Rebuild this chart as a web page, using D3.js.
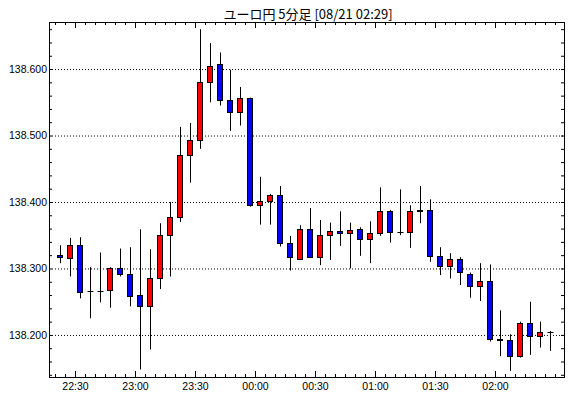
<!DOCTYPE html>
<html>
<head>
<meta charset="utf-8">
<script src="https://cdn.jsdelivr.net/npm/d3@7"></script>
<style>
body { margin: 0; background: #fff; }
svg { display: block; }
</style>
</head>
<body>
<script>
// 5 minute candles, EUR/JPY
let times = ['22:20','22:25','22:30','22:35','22:40','22:45','22:50','22:55',
    '23:00','23:05','23:10','23:15','23:20','23:25','23:30','23:35','23:40','23:45','23:50','23:55',
    '00:00','00:05','00:10','00:15','00:20','00:25','00:30','00:35','00:40','00:45','00:50','00:55',
    '01:00','01:05','01:10','01:15','01:20','01:25','01:30','01:35','01:40','01:45','01:50','01:55',
    '02:00','02:05','02:10','02:15','02:20','02:25'];
let open = [138.320,138.316,138.335,138.266,138.266,138.267,138.300,138.291,
    138.260,138.243,138.285,138.350,138.377,138.470,138.494,138.581,138.608,138.554,138.536,138.557,
    138.395,138.401,138.410,138.339,138.314,138.360,138.317,138.350,138.356,138.353,138.359,138.345,
    138.353,138.386,138.355,138.355,138.388,138.388,138.319,138.303,138.314,138.291,138.273,138.281,
    138.194,138.192,138.169,138.218,138.199,138.204];
let high = [138.335,138.346,138.347,138.302,138.324,138.302,138.330,138.332,
    138.359,138.329,138.368,138.400,138.513,138.519,138.660,138.639,138.625,138.599,138.573,138.557,
    138.438,138.412,138.424,138.349,138.365,138.391,138.373,138.369,138.386,138.369,138.362,138.371,
    138.422,138.388,138.419,138.395,138.424,138.404,138.332,138.323,138.317,138.294,138.308,138.306,
    138.237,138.201,138.220,138.250,138.220,138.206];
let low = [138.308,138.288,138.255,138.225,138.249,138.241,138.288,138.243,
    138.148,138.178,138.269,138.288,138.370,138.429,138.480,138.550,138.545,138.507,138.515,138.393,
    138.366,138.366,138.333,138.297,138.313,138.317,138.305,138.313,138.334,138.300,138.319,138.308,
    138.349,138.339,138.350,138.331,138.368,138.310,138.290,138.285,138.275,138.256,138.251,138.190,
    138.168,138.146,138.166,138.170,138.181,138.176];
let close = [138.317,138.335,138.265,138.266,138.266,138.300,138.291,138.259,
    138.243,138.285,138.350,138.377,138.470,138.493,138.581,138.604,138.554,138.536,138.557,138.395,
    138.401,138.410,138.339,138.317,138.360,138.317,138.350,138.356,138.353,138.358,138.345,138.353,
    138.386,138.355,138.355,138.386,138.386,138.319,138.303,138.314,138.295,138.273,138.281,138.194,
    138.192,138.169,138.218,138.199,138.204,138.204];
let yTicks = [138.200, 138.300, 138.400, 138.500, 138.600];
let xTickLabels = ['22:30','23:00','23:30','00:00','00:30','01:00','01:30','02:00'];
let title = 'ユーロ円 5分足 [08/21 02:29]';

let W = 570, H = 398;
let L = 49, R = 564, T = 22, B = 377;

// times after midnight belong to the next day
function toDate(s) {
    let hh = +s.slice(0,2), mm = +s.slice(3,5);
    return new Date(2023, 7, hh >= 12 ? 20 : 21, hh, mm);
}

let svg = d3.select('body').append('svg')
    .attr('width', W)
    .attr('height', H);

let x = d3.scaleTime()
    .domain([new Date(2023,7,20,22,17,0), new Date(2023,7,21,2,34,30)])
    .range([L, R]);
let y = d3.scaleLinear()
    .domain([138.1367, 138.6708])
    .range([B, T]);

let FONT = '"Liberation Sans", Arial, sans-serif';

// title
svg.append('text')
    .attr('x', 308)
    .attr('y', 19)
    .attr('text-anchor', 'middle')
    .attr('font-family', '"Noto Sans CJK JP", sans-serif')
    .attr('font-size', 13)
    .attr('fill', '#000')
    .text(title);

// horizontal dotted grid
let grid = svg.append('g')
    .attr('transform', 'translate(' + L + ',0)')
    .call(d3.axisLeft(y).tickValues(yTicks).tickSize(-(R - L)).tickFormat(''));
grid.select('.domain').remove();
grid.selectAll('line').attr('stroke', '#000').attr('stroke-dasharray', '1,2');

// minor tick values
let yMinor = d3.range(138.14, 138.67, 0.02).map(v => +v.toFixed(2));
let xMinor = d3.timeMinute.every(5).range(x.domain()[0], x.domain()[1]);
let xMajor = xTickLabels.map(toDate);

function styleAxis(g) {
    g.select('.domain').remove();
    g.selectAll('line').attr('stroke', '#000');
    g.selectAll('text').attr('fill', '#000').attr('font-family', FONT).attr('font-size', 10.5);
}

svg.append('g')
    .attr('transform', 'translate(' + L + ',0)')
    .call(d3.axisLeft(y).tickValues(yMinor).tickSize(-3).tickPadding(2)
        .tickFormat(d => yTicks.some(t => Math.abs(t - d) < 1e-6) ? d.toFixed(3) : ''))
    .call(styleAxis);
svg.append('g')
    .attr('transform', 'translate(' + R + ',0)')
    .call(d3.axisRight(y).tickValues(yMinor).tickSize(-3).tickFormat(''))
    .call(styleAxis);

svg.append('g')
    .attr('transform', 'translate(0,' + B + ')')
    .call(d3.axisBottom(x).tickValues(xMinor).tickSize(-3).tickFormat(''))
    .call(styleAxis);
svg.append('g')
    .attr('transform', 'translate(0,' + B + ')')
    .call(d3.axisBottom(x).tickValues(xMajor).tickSize(-6).tickPadding(6)
        .tickFormat(d3.timeFormat('%H:%M')))
    .call(styleAxis);
svg.append('g')
    .attr('transform', 'translate(0,' + T + ')')
    .call(d3.axisTop(x).tickValues(xMinor).tickSize(-3).tickFormat(''))
    .call(styleAxis);
svg.append('g')
    .attr('transform', 'translate(0,' + T + ')')
    .call(d3.axisTop(x).tickValues(xMajor).tickSize(-6).tickFormat(''))
    .call(styleAxis);

// frame
svg.append('rect')
    .attr('x', L + 0.5)
    .attr('y', T + 0.5)
    .attr('width', R - L)
    .attr('height', B - T)
    .attr('fill', 'none')
    .attr('stroke', '#000');

// candles
let candles = times.map((t, i) => ({t: toDate(t), o: open[i], h: high[i], l: low[i], c: close[i]}));
let half = 2.5 * 60 * 1000;  // centre of the 5 min bar
let cg = svg.append('g');

candles.forEach(d => {
    let cx = Math.round(x(new Date(+d.t + half))) + 0.5;
    cg.append('line')
        .attr('x1', cx).attr('x2', cx)
        .attr('y1', y(d.h)).attr('y2', y(d.l))
        .attr('stroke', '#000')
        .attr('stroke-width', 1);
    if (Math.abs(d.o - d.c) < 0.0005) {
        let yy = Math.round(y(d.o)) + 0.5;
        cg.append('line')
            .attr('x1', cx - 3).attr('x2', cx + 3)
            .attr('y1', yy).attr('y2', yy)
            .attr('stroke', '#000');
    } else {
        let top = Math.round(y(Math.max(d.o, d.c))) + 0.5;
        let bot = Math.round(y(Math.min(d.o, d.c))) + 0.5;
        cg.append('rect')
            .attr('x', cx - 3)
            .attr('y', top)
            .attr('width', 5)
            .attr('height', Math.max(bot - top, 1))
            .attr('fill', d.c > d.o ? '#ff0000' : '#0000ff')
            .attr('stroke', '#000')
            .attr('stroke-width', 1);
    }
});
</script>
</body>
</html>
